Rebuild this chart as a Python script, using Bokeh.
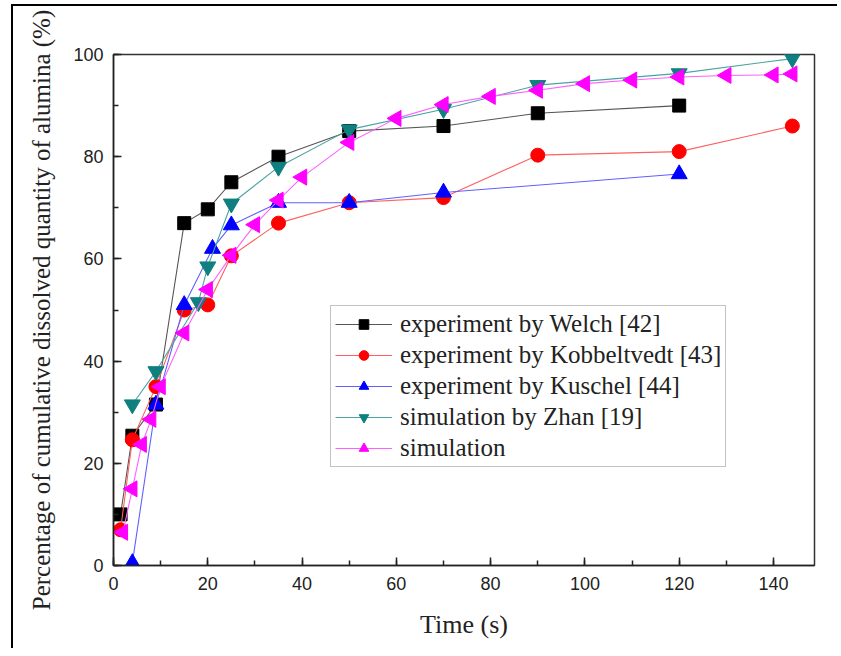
import math
from bokeh.plotting import figure
from bokeh.models import Legend, LegendItem, SingleIntervalTicker, Range1d
from bokeh.embed import file_html
from bokeh.resources import INLINE

# ---- data ----
welch_t = [1.5, 4, 9, 15, 20, 25, 35, 50, 70, 90, 120]
welch_v = [10, 25.4, 31.5, 67, 69.7, 75, 80, 85, 86, 88.5, 90]

kob_t = [1.5, 4, 9, 15, 20, 25, 35, 50, 70, 90, 120, 144]
kob_v = [7, 24.6, 35, 50, 51, 60.6, 67, 71, 72, 80.3, 81, 86]

kus_t = [4, 9, 15, 21, 25, 35, 50, 70, 120]
kus_v = [0.5, 31.5, 51, 62, 66.6, 71, 71, 73, 76.6]

zhan_t = [4, 9, 18, 20, 25, 35, 50, 70, 90, 120, 144]
zhan_v = [31.5, 38, 51.5, 58.5, 70.8, 78, 85.3, 89.3, 94, 96.3, 99.2]

sim_t = [2, 4, 6, 8, 10, 15, 20, 25, 30, 35, 40, 50, 60, 70, 80, 90, 100, 110, 120, 130, 140, 144]
sim_v = [6.5, 15, 23.7, 28.6, 35, 45.5, 54, 60.7, 66.7, 71.5, 76, 82.8, 87.5, 90.2, 91.8, 93, 94.3, 95, 95.6, 95.9, 96, 96.2]

labels = ["experiment by Welch [42]", "experiment by Kobbeltvedt [43]",
          "experiment by Kuschel [44]", "simulation by Zhan [19]", "simulation"]

p = figure(width=826, height=644, output_backend="svg", toolbar_location=None,
           x_range=Range1d(0, 148.7), y_range=Range1d(0, 100),
           min_border_left=100, min_border_right=25, min_border_top=48, min_border_bottom=85)
p.styles = {"border-left": "2px solid black", "border-top": "2px solid black",
            "margin-left": "11px", "margin-top": "4px"}
p.xgrid.visible = False
p.ygrid.visible = False
p.outline_line_color = "#333333"
p.outline_line_width = 1.5
p.background_fill_color = "white"
p.border_fill_color = "white"

p.xaxis.ticker = SingleIntervalTicker(interval=20, num_minor_ticks=2)
p.yaxis.ticker = SingleIntervalTicker(interval=20, num_minor_ticks=2)
for ax in (p.xaxis[0], p.yaxis[0]):
    ax.axis_line_color = "#222222"
    ax.axis_line_width = 1.5
    ax.major_tick_in = 8
    ax.major_tick_out = 0
    ax.minor_tick_in = 5
    ax.minor_tick_out = 0
    ax.major_tick_line_color = "#222222"
    ax.minor_tick_line_color = "#222222"
    ax.major_tick_line_width = 1.5
    ax.minor_tick_line_width = 1.5
    ax.major_label_text_font = "Liberation Sans"
    ax.major_label_text_font_size = "18px"
    ax.major_label_text_color = "#222222"
    ax.axis_label_text_font = "Liberation Serif"
    ax.axis_label_text_font_style = "normal"
    ax.axis_label_text_color = "#222222"

p.xaxis.axis_label = "Time (s)"
p.yaxis.axis_label = "Percentage of cumulative dissolved quantity of alumina (%)"
p.xaxis.axis_label_text_font_size = "26px"
p.yaxis.axis_label_text_font_size = "25px"
p.xaxis.major_label_standoff = 11
p.yaxis.major_label_standoff = 10
p.xaxis.axis_label_standoff = 17
p.yaxis.axis_label_standoff = 15

series = [
    (welch_t, welch_v, "square", "black", "#555555", 0.0, 13),
    (kob_t, kob_v, "circle", "#ff0000", "#ff6060", 0.0, 14),
    (kus_t, kus_v, "triangle", "#0000ff", "#6060ff", 0.0, 16),
    (zhan_t, zhan_v, "inverted_triangle", "#0f7f7f", "#4aa3a3", 0.0, 16),
    (sim_t, sim_v, "triangle", "#ff00ff", "#ff60ff", math.pi / 2, 16),
]

items = []
for (t, v, marker, mc, lc, ang, sz), lab in zip(series, labels):
    r1 = p.line(t, v, line_color=lc, line_width=1.1)
    r2 = p.scatter(t, v, marker=marker, size=sz, fill_color=mc, line_color=mc, angle=ang)
    items.append(LegendItem(label=lab, renderers=[r1, r2]))

legend = Legend(items=items, location=(217, 98))
legend.label_text_font = "Liberation Serif"
legend.label_text_font_size = "25px"
legend.label_text_color = "#222222"
legend.glyph_width = 57
legend.glyph_height = 24
legend.label_height = 24
legend.spacing = 3
legend.padding = 4
legend.margin = 0
legend.label_standoff = 8
legend.border_line_color = "#888888"
legend.border_line_width = 1.5
legend.background_fill_alpha = 1.0
p.add_layout(legend, "center")

open("out.html", "w").write(file_html(p, INLINE))
